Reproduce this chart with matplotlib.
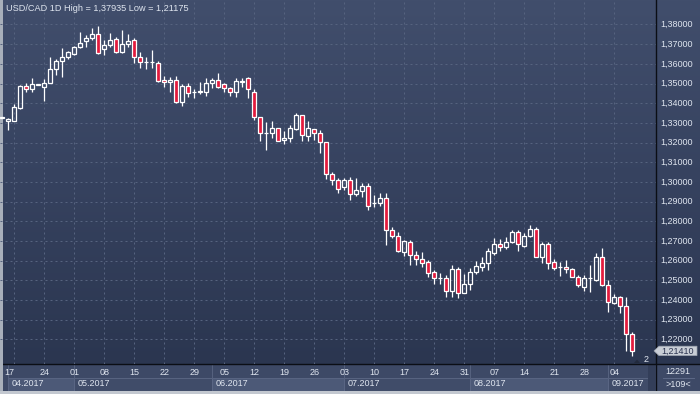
import numpy as np
import pandas as pd
import matplotlib
matplotlib.use('Agg')
import matplotlib.pyplot as plt
from matplotlib.patches import Rectangle, Polygon
from matplotlib.colors import LinearSegmentedColormap
from matplotlib.transforms import blended_transform_factory

plt.rcParams['font.family'] = ['Liberation Sans', 'DejaVu Sans']

# 일봉 USD/CAD (2017-04-13 ~ 2017-09-07)
dates = pd.bdate_range('2017-04-13', '2017-09-07')

opens = [1.3327, 1.3312, 1.3312, 1.3378, 1.3486, 1.3471, 1.3495, 1.3484, 1.3501, 1.3572,
         1.3612, 1.3633, 1.3649, 1.3687, 1.3715, 1.3730, 1.3750, 1.3674, 1.3696, 1.3725,
         1.3659, 1.3699, 1.3721, 1.3633, 1.3607, 1.3607, 1.3603, 1.3517, 1.3506, 1.3518,
         1.3408, 1.3488, 1.3455, 1.3457, 1.3459, 1.3501, 1.3518, 1.3496, 1.3476, 1.3455,
         1.3510, 1.3527, 1.3456, 1.3329, 1.3246, 1.3247, 1.3273, 1.3212, 1.3222, 1.3269,
         1.3340, 1.3235, 1.3268, 1.3247, 1.3202, 1.3039, 1.3010, 1.2973, 1.3010, 1.2937,
         1.2956, 1.2980, 1.2891, 1.2892, 1.2917, 1.2754, 1.2723, 1.2646, 1.2694, 1.2626,
         1.2607, 1.2592, 1.2541, 1.2510, 1.2511, 1.2443, 1.2556, 1.2434, 1.2480, 1.2540,
         1.2570, 1.2587, 1.2638, 1.2683, 1.2668, 1.2697, 1.2744, 1.2676, 1.2726, 1.2760,
         1.2620, 1.2683, 1.2592, 1.2566, 1.2567, 1.2556, 1.2519, 1.2468, 1.2510, 1.2502,
         1.2620, 1.2477, 1.2384, 1.2417, 1.2371, 1.2228]
highs = [1.3330, 1.3324, 1.3396, 1.3493, 1.3501, 1.3527, 1.3499, 1.3523, 1.3633, 1.3625,
         1.3679, 1.3665, 1.3692, 1.3763, 1.3747, 1.3781, 1.37935, 1.3721, 1.3755, 1.3738,
         1.3772, 1.3750, 1.3730, 1.3659, 1.3636, 1.3670, 1.3615, 1.3540, 1.3532, 1.3540,
         1.3496, 1.3501, 1.3472, 1.3509, 1.3527, 1.3530, 1.3552, 1.3501, 1.3481, 1.3527,
         1.3526, 1.3533, 1.3471, 1.3330, 1.3306, 1.3310, 1.3276, 1.3259, 1.3289, 1.3352,
         1.3342, 1.3310, 1.3270, 1.3264, 1.3203, 1.3051, 1.3018, 1.3019, 1.3024, 1.3019,
         1.2993, 1.2993, 1.2934, 1.2942, 1.2942, 1.2771, 1.2747, 1.2705, 1.2705, 1.2648,
         1.2643, 1.2604, 1.2553, 1.2535, 1.2527, 1.2578, 1.2567, 1.2533, 1.2560, 1.2599,
         1.2617, 1.2666, 1.2714, 1.2709, 1.2722, 1.2753, 1.2756, 1.2739, 1.2781, 1.2773,
         1.2697, 1.2697, 1.2609, 1.2595, 1.2604, 1.2561, 1.2527, 1.2527, 1.2578, 1.2641,
         1.2663, 1.2502, 1.2431, 1.2421, 1.2414, 1.2239]
lows = [1.3324, 1.3262, 1.3310, 1.3371, 1.3459, 1.3459, 1.3493, 1.3413, 1.3501, 1.3541,
        1.3533, 1.3627, 1.3645, 1.3679, 1.3687, 1.3721, 1.3649, 1.3645, 1.3687, 1.3654,
        1.3654, 1.3687, 1.3603, 1.3577, 1.3572, 1.3579, 1.3509, 1.3484, 1.3459, 1.3400,
        1.3388, 1.3433, 1.3428, 1.3445, 1.3438, 1.3476, 1.3476, 1.3459, 1.3438, 1.3429,
        1.3484, 1.3425, 1.3315, 1.3210, 1.3162, 1.3225, 1.3208, 1.3191, 1.3205, 1.3264,
        1.3210, 1.3208, 1.3213, 1.3149, 1.3014, 1.2985, 1.2946, 1.2959, 1.2908, 1.2929,
        1.2925, 1.2859, 1.2871, 1.2880, 1.2680, 1.2714, 1.2646, 1.2624, 1.2578, 1.2576,
        1.2568, 1.2519, 1.2482, 1.2479, 1.2414, 1.2414, 1.2409, 1.2433, 1.2451, 1.2533,
        1.2548, 1.2553, 1.2629, 1.2651, 1.2660, 1.2689, 1.2651, 1.2671, 1.2719, 1.2617,
        1.2590, 1.2556, 1.2553, 1.2524, 1.2539, 1.2516, 1.2465, 1.2443, 1.2438, 1.2498,
        1.2472, 1.2341, 1.2380, 1.2336, 1.2140, 1.21175]
closes = [1.3328, 1.3320, 1.3379, 1.3488, 1.3471, 1.3496, 1.3497, 1.3501, 1.3572, 1.3617,
          1.3633, 1.3659, 1.3687, 1.3708, 1.3733, 1.3750, 1.3654, 1.3696, 1.3721, 1.3659,
          1.3701, 1.3716, 1.3633, 1.3608, 1.3610, 1.3608, 1.3515, 1.3506, 1.3518, 1.3408,
          1.3488, 1.3450, 1.3457, 1.3462, 1.3501, 1.3518, 1.3481, 1.3476, 1.3456, 1.3513,
          1.3513, 1.3471, 1.3329, 1.3247, 1.3249, 1.3273, 1.3210, 1.3222, 1.3273, 1.3340,
          1.3236, 1.3273, 1.3247, 1.3202, 1.3039, 1.3008, 1.2963, 1.3010, 1.2937, 1.2959,
          1.2980, 1.2878, 1.2893, 1.2917, 1.2754, 1.2724, 1.2651, 1.2700, 1.2626, 1.2607,
          1.2590, 1.2536, 1.2511, 1.2512, 1.2443, 1.2556, 1.2434, 1.2480, 1.2541, 1.2572,
          1.2587, 1.2651, 1.2683, 1.2668, 1.2697, 1.2744, 1.2683, 1.2726, 1.2760, 1.2620,
          1.2683, 1.2587, 1.2561, 1.2568, 1.2556, 1.2519, 1.2477, 1.2511, 1.2512, 1.2620,
          1.2477, 1.2392, 1.2417, 1.2371, 1.2228, 1.2141]

price_ticks = [1.22, 1.23, 1.24, 1.25, 1.26, 1.27, 1.28, 1.29, 1.30,
               1.31, 1.32, 1.33, 1.34, 1.35, 1.36, 1.37, 1.38]
last_price = 1.21410
title = "USD/CAD 1D High = 1,37935 Low = 1,21175"
volume_text = "12291"
zoom_text = ">109<"

W, H = 700, 394
TXT = '#dfe5ef'
RED = '#e31b3d'

fig = plt.figure(figsize=(W / 100, H / 100), dpi=100)

# 배경 (픽셀 좌표)
bg = fig.add_axes([0, 0, 1, 1])
bg.set_xlim(0, W)
bg.set_ylim(H, 0)
bg.axis('off')
grad = LinearSegmentedColormap.from_list('g', ['#414e6c', '#36425f', '#2b3650'])
bg.imshow(np.linspace(0, 1, 256).reshape(-1, 1), cmap=grad, aspect='auto',
          extent=(0, W, 364, 0), zorder=0)
bg.add_patch(Rectangle((0, 364), W, H - 364, facecolor='#3d4966', edgecolor='none', zorder=1))

# 메인 차트
ax = fig.add_axes([0, (H - 364) / H, 656 / W, 364 / H])
ax.set_xlim(-0.383, 108.95)
ax.set_ylim(1.207446, 1.392452)
ax.patch.set_alpha(0)
ax.axis('off')

n = len(opens)
x = np.arange(n)
mondays = [i for i, d in enumerate(dates) if d.weekday() == 0]

for p in price_ticks:
    ax.axhline(p, color='#56637f', lw=0.72, ls=(0, (2, 3)), zorder=1)
for i in mondays:
    ax.axvline(i, color='#56637f', lw=0.72, ls=(0, (2, 3)), zorder=1)

o = np.array(opens); c = np.array(closes); h = np.array(highs); l = np.array(lows)
top = np.maximum(o, c)
bot = np.minimum(o, c)
up = c >= o
ax.vlines(x, top, h, color='white', lw=0.9, zorder=2)
ax.vlines(x, l, bot, color='white', lw=0.9, zorder=2)
ht = np.maximum(top - bot, 0.00015)
ax.bar(x[up], ht[up], bottom=bot[up], width=0.67, facecolor='none',
       edgecolor='white', linewidth=0.9, zorder=3)
ax.bar(x[~up], ht[~up], bottom=bot[~up], width=0.67, facecolor=RED,
       edgecolor='white', linewidth=0.9, zorder=3)

fig.text(6 / W, 1 - 8.5 / H, title, color=TXT, fontsize=6.6, va='center', ha='left')

# 오른쪽 가격축
tr_r = blended_transform_factory(bg.transData, ax.transData)
for p in price_ticks:
    ax.text(660, p, f"{p:.5f}".replace('.', ','), transform=tr_r, color=TXT,
            fontsize=6.5, va='center', ha='left', clip_on=False)

tag = Polygon([(654, last_price), (659, last_price + 0.0024), (697, last_price + 0.0024),
               (697, last_price - 0.0024), (659, last_price - 0.0024)],
              closed=True, transform=tr_r, facecolor='#c9ced6', edgecolor='#9aa1ad',
              lw=0.5, clip_on=False, zorder=5)
ax.add_patch(tag)
ax.text(678, last_price, f"{last_price:.5f}".replace('.', ','), transform=tr_r,
        color='#2b3450', fontsize=6.5, va='center', ha='center', clip_on=False, zorder=6)

# 아래 날짜축
tr_b = blended_transform_factory(ax.transData, bg.transData)
for k, i in enumerate(mondays):
    xi = i if k > 0 else i - 0.75
    bg.text(xi, 372.5, f"{dates[i].day:02d}", transform=tr_b, color=TXT,
            fontsize=6.5, va='center', ha='center', zorder=4)

month_starts = [max(i, 1) for i in range(n) if i == 0 or dates[i].month != dates[i - 1].month]
month_ends = month_starts[1:] + [n + 1.6]
for k, (s, e) in enumerate(zip(month_starts, month_ends)):
    fc = '#4c5977' if dates[s].month % 2 == 0 else '#404c69'
    bg.add_patch(Rectangle((s, 377.5), e - s, 13, transform=tr_b, facecolor=fc,
                           edgecolor='#5c6886', lw=0.6, zorder=2))
    bg.plot([s, s], [365, 377.5], transform=tr_b, color='#56627f', lw=0.7, zorder=2)
    bg.text(s + 0.6, 384, dates[s].strftime('%m.%Y'), transform=tr_b, color=TXT,
            fontsize=6.5, va='center', ha='left', zorder=4)
bg.add_patch(Rectangle((648, 365), 7, 26, facecolor='#333e59', edgecolor='none', zorder=2))

# 오른쪽 아래
bg.text(678, 371.5, volume_text, color=TXT, fontsize=6.5, va='center', ha='center', zorder=4)
bg.plot([663, 694], [377.5, 377.5], color='#5c6886', lw=0.7, zorder=4)
bg.text(678, 384.5, zoom_text, color=TXT, fontsize=6.5, va='center', ha='center', zorder=4)
bg.text(646, 359.5, "2", color=TXT, fontsize=6.5, va='center', ha='center', zorder=4)
bg.add_patch(Polygon([(634, 363), (637, 359.5), (640, 363)], closed=True,
                     facecolor='#222a3d', edgecolor='none', zorder=4))

# 테두리
bg.plot([656, 656], [0, 391], color='#0b0e15', lw=1.0, zorder=7)
bg.plot([3, W], [364, 364], color='#0b0e15', lw=1.0, zorder=7)
bg.add_patch(Rectangle((0, 0), 3, H, facecolor='#a8afba', edgecolor='none', zorder=8))
bg.add_patch(Rectangle((0, 391), W, 3, facecolor='#c3c8d0', edgecolor='none', zorder=8))
bg.set_zorder(0)
ax.set_zorder(1)

fig.savefig('out.png', dpi=100)
